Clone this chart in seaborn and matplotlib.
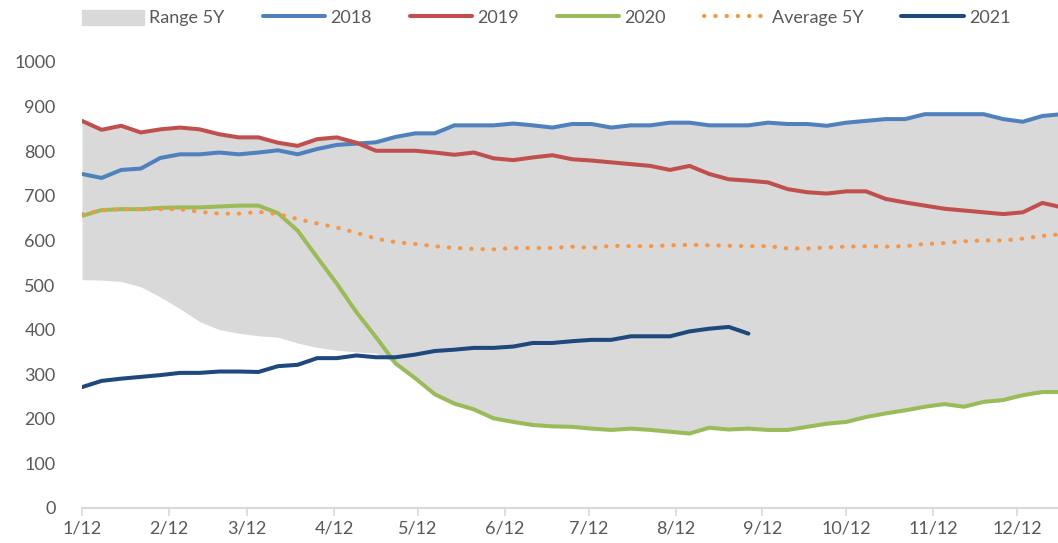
import matplotlib
matplotlib.use("Agg")
import matplotlib.pyplot as plt
import matplotlib.patches as mpatches
import seaborn as sns
import pandas as pd
import numpy as np

# ---------------- data ----------------
week_index = list(range(51))  # weekly points starting 12 Jan
tick_days = [0, 31, 59, 90, 120, 151, 181, 212, 243, 273, 304, 334]
tick_labels = ["1/12", "2/12", "3/12", "4/12", "5/12", "6/12",
               "7/12", "8/12", "9/12", "10/12", "11/12", "12/12"]

y2018 = [749, 740, 758, 761, 785, 793, 793, 797, 793, 797, 802, 793, 805, 814, 817,
         820, 832, 840, 840, 858, 858, 858, 862, 858, 853, 861, 861, 853, 858, 858,
         864, 864, 858, 858, 858, 864, 861, 861, 857, 864, 868, 872, 872, 883, 883,
         883, 883, 872, 866, 879, 883]
y2019 = [868, 848, 857, 842, 849, 853, 849, 838, 831, 831, 819, 812, 827, 831, 819,
         801, 801, 801, 797, 792, 797, 784, 780, 786, 791, 782, 779, 775, 771, 767,
         758, 767, 749, 737, 734, 730, 715, 708, 705, 710, 710, 693, 685, 678, 671,
         667, 663, 659, 663, 684, 674]
y2020 = [655, 668, 670, 670, 673, 674, 674, 676, 678, 678, 661, 622, 562, 503, 439,
         383, 324, 291, 255, 234, 221, 201, 193, 186, 183, 182, 178, 175, 178, 175,
         171, 167, 180, 176, 178, 175, 175, 182, 189, 193, 204, 212, 219, 227, 233,
         227, 238, 242, 253, 260, 260]
y2021 = [271, 285, 290, 294, 298, 303, 303, 306, 306, 305, 318, 321, 336, 336, 342,
         338, 338, 344, 352, 355, 359, 359, 362, 370, 370, 374, 377, 377, 385, 385,
         385, 396, 402, 406, 391]
avg5y = [659, 667, 670, 670, 670, 670, 664, 660, 660, 664, 659, 648, 638, 629, 617,
         604, 596, 592, 587, 583, 581, 580, 583, 583, 583, 586, 583, 588, 587, 587,
         589, 590, 589, 588, 587, 587, 582, 582, 584, 586, 587, 586, 587, 592, 594,
         598, 600, 600, 604, 610, 614]
range_high = [868, 848, 857, 842, 849, 853, 849, 838, 831, 831, 819, 812, 827, 831, 819,
              820, 832, 840, 840, 858, 858, 858, 862, 858, 853, 861, 861, 853, 858, 858,
              864, 864, 858, 858, 858, 864, 861, 861, 857, 864, 868, 872, 872, 883, 883,
              883, 883, 872, 866, 879, 883]
range_low = [512, 511, 508, 496, 473, 447, 418, 400, 392, 386, 383, 370, 360, 354, 350,
             347, 324, 291, 255, 234, 221, 201, 193, 186, 183, 182, 178, 175, 178, 175,
             171, 167, 180, 176, 178, 175, 175, 182, 189, 193, 204, 212, 219, 227, 233,
             227, 238, 242, 253, 260, 260]
y_ticks = [0, 100, 200, 300, 400, 500, 600, 700, 800, 900, 1000]

# ---------------- style ----------------
sns.set_theme(style="white")
plt.rcParams['font.family'] = ['Lato', 'DejaVu Sans']

c_range = "#D9D9D9"
c18, c19, c20, cavg, c21 = "#4F81BD", "#C0504D", "#9BBB59", "#F79646", "#1F497D"
txt = "#595959"
fs = 13

days = [7 * i for i in week_index]
df = pd.DataFrame({"day": days, "y2018": y2018, "y2019": y2019, "y2020": y2020,
                   "avg": avg5y, "hi": range_high, "lo": range_low})
df21 = pd.DataFrame({"day": days[:len(y2021)], "y2021": y2021})

W, H = 1058, 543
fig = plt.figure(figsize=(W / 100, H / 100), dpi=100)
left_px, right_px, top_px, bot_px = 82, 1058, 62, 508
ax = fig.add_axes([left_px / W, 1 - bot_px / H, (right_px - left_px) / W, (bot_px - top_px) / H])

ax.fill_between(df["day"], df["lo"], df["hi"], color=c_range, linewidth=0, zorder=1)
lw = 2.9
sns.lineplot(data=df, x="day", y="y2018", ax=ax, color=c18, linewidth=lw, zorder=3)
sns.lineplot(data=df, x="day", y="y2019", ax=ax, color=c19, linewidth=lw, zorder=3)
sns.lineplot(data=df, x="day", y="y2020", ax=ax, color=c20, linewidth=lw, zorder=3)
sns.lineplot(data=df, x="day", y="avg", ax=ax, color=cavg, linewidth=3,
             linestyle=(0, (0.1, 2.6)), dash_capstyle="round", zorder=3)
sns.lineplot(data=df21, x="day", y="y2021", ax=ax, color=c21, linewidth=lw, zorder=4)

ax.set_xlim(0, (right_px - left_px) / 2.8)
ax.set_ylim(0, 1000)
ax.set_xticks(tick_days)
ax.set_xticklabels(tick_labels)
ax.set_yticks(y_ticks)
ax.set_yticklabels([str(v) for v in y_ticks])
ax.set_xlabel("")
ax.set_ylabel("")
for s in ["top", "right", "left"]:
    ax.spines[s].set_visible(False)
ax.spines["bottom"].set_color(c_range)
ax.spines["bottom"].set_linewidth(1.5)
ax.tick_params(axis="x", direction="out", length=6, width=1.2, color=c_range,
               labelsize=fs, labelcolor=txt, pad=3, bottom=True)
ax.tick_params(axis="y", length=0, labelsize=fs, labelcolor=txt, pad=19)
ax.grid(False)

handles = [
    mpatches.Patch(color=c_range, label="Range 5Y"),
    plt.Line2D([], [], color=c18, lw=lw, label="2018"),
    plt.Line2D([], [], color=c19, lw=lw, label="2019"),
    plt.Line2D([], [], color=c20, lw=lw, label="2020"),
    plt.Line2D([], [], color=cavg, lw=3, linestyle=(0, (0.1, 2.6)),
               dash_capstyle="round", label="Average 5Y"),
    plt.Line2D([], [], color=c21, lw=lw, label="2021"),
]
leg = fig.legend(handles=handles, loc="center", bbox_to_anchor=(546 / W, 1 - 18 / H),
                 ncol=6, frameon=False, fontsize=fs, handlelength=3.45,
                 handletextpad=0.3, columnspacing=2.1, handleheight=0.9)
for t in leg.get_texts():
    t.set_color(txt)

fig.savefig("out.png", dpi=100)
